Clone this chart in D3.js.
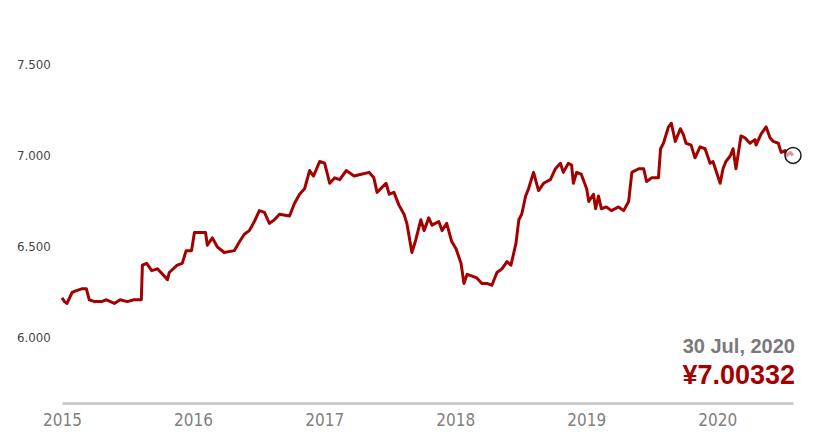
<!DOCTYPE html>
<html><head><meta charset="utf-8">
<script src="https://cdn.jsdelivr.net/npm/d3@7"></script>
<style>
html,body{margin:0;padding:0;background:#fff;}
svg{display:block;}
</style></head>
<body>
<svg id="chart" width="832" height="448"></svg>
<script>
const dates = ["2015-01-01","2015-01-08","2015-01-15","2015-01-29","2015-02-10","2015-02-25","2015-03-10","2015-03-18","2015-04-02","2015-04-21","2015-05-05","2015-05-27","2015-06-12","2015-07-02","2015-07-20","2015-08-10",
"2015-08-13","2015-08-25","2015-09-08","2015-09-24","2015-10-13","2015-10-22","2015-10-27","2015-11-18","2015-12-02","2015-12-13","2015-12-28",
"2016-01-05","2016-02-05","2016-02-10","2016-02-24","2016-03-09","2016-03-28","2016-04-25","2016-05-10","2016-05-23","2016-06-06","2016-06-20",
"2016-07-04","2016-07-18","2016-08-01","2016-08-15","2016-08-29","2016-09-26","2016-10-10","2016-10-24","2016-11-07","2016-11-21","2016-12-02","2016-12-19",
"2017-01-02","2017-01-16","2017-01-30","2017-02-13","2017-03-03","2017-03-25","2017-04-14","2017-05-06","2017-05-19","2017-05-28","2017-06-22",
"2017-07-01","2017-07-14","2017-07-28","2017-08-11","2017-08-19","2017-09-02","2017-09-13","2017-09-27","2017-10-06","2017-10-19","2017-10-28",
"2017-11-16","2017-11-25","2017-12-08","2017-12-22","2018-01-03","2018-01-17","2018-01-25","2018-02-03","2018-02-17","2018-03-02","2018-03-16",
"2018-03-30","2018-04-13","2018-04-27","2018-05-11","2018-05-25","2018-06-05","2018-06-19","2018-06-27","2018-07-05","2018-07-16","2018-07-24",
"2018-08-07","2018-08-21","2018-09-04","2018-09-23","2018-10-07","2018-10-21","2018-10-29","2018-11-12","2018-11-21","2018-11-26","2018-12-05",
"2018-12-18","2019-01-02","2019-01-08","2019-01-21","2019-01-27","2019-02-04","2019-02-12","2019-02-26","2019-03-12","2019-04-01","2019-04-15",
"2019-04-29","2019-05-08","2019-05-27","2019-06-10","2019-06-18","2019-07-02","2019-07-21","2019-07-27","2019-08-04","2019-08-18","2019-08-26",
"2019-09-06","2019-09-20","2019-09-28","2019-10-06","2019-10-20","2019-10-31","2019-11-14","2019-11-28","2019-12-12","2019-12-20","2020-01-09",
"2020-01-17","2020-01-25","2020-02-06","2020-02-14","2020-02-22","2020-03-07","2020-03-18","2020-04-01","2020-04-15","2020-04-18","2020-05-02",
"2020-05-16","2020-05-27","2020-06-05","2020-06-19","2020-06-27","2020-07-08","2020-07-12","2020-07-22","2020-07-30"];
const rates = [6.22,6.20,6.19,6.25,6.26,6.27,6.27,6.21,6.20,6.20,6.21,6.19,6.21,6.20,6.21,6.21,
6.40,6.41,6.37,6.38,6.34,6.32,6.36,6.40,6.41,6.48,6.48,
6.58,6.58,6.51,6.55,6.50,6.47,6.48,6.53,6.57,6.59,6.64,
6.70,6.69,6.63,6.65,6.68,6.67,6.74,6.79,6.82,6.92,6.89,6.97,
6.96,6.85,6.88,6.87,6.92,6.89,6.90,6.91,6.88,6.80,6.85,
6.79,6.80,6.73,6.68,6.63,6.47,6.54,6.65,6.59,6.66,6.62,
6.64,6.59,6.63,6.53,6.49,6.41,6.30,6.35,6.34,6.33,6.30,
6.30,6.29,6.36,6.38,6.42,6.40,6.52,6.65,6.68,6.78,6.82,
6.91,6.81,6.85,6.87,6.93,6.96,6.91,6.96,6.95,6.85,6.91,
6.90,6.82,6.75,6.79,6.71,6.78,6.71,6.72,6.70,6.72,6.70,
6.75,6.91,6.93,6.93,6.86,6.88,6.88,7.04,7.07,7.16,7.18,
7.08,7.15,7.12,7.07,7.06,6.99,7.05,7.04,6.96,6.97,6.85,
6.93,6.97,7.00,7.04,6.93,7.11,7.10,7.07,7.09,7.06,7.12,
7.16,7.10,7.08,7.07,7.02,7.03,7.00,7.02,7.00332];
const yTicks = [6.0, 6.5, 7.0, 7.5];
const xTickYears = ["2015","2016","2017","2018","2019","2020"];
const lastDateLabel = "30 Jul, 2020";
const lastValueLabel = "¥7.00332";

const parse = d3.timeParse("%Y-%m-%d");
const data = dates.map((d,i)=>({date:parse(d), v:rates[i]}));

const svg = d3.select("#chart");
const x = d3.scaleTime().domain([parse("2015-01-01"), parse("2020-07-30")]).range([62, 793]);
const y = d3.scaleLinear().domain([6.0, 7.5]).range([338, 65]);

// y labels
svg.append("g").selectAll("text").data(yTicks).join("text")
  .attr("x", 17).attr("y", d=>y(d)).attr("dy","0.35em")
  .attr("font-family","'DejaVu Sans', Verdana, sans-serif").attr("font-size", 11.8)
  .attr("fill","#444").text(d=>d3.format(".3f")(d));

// x axis
const xAxis = d3.axisBottom(x)
  .tickValues(xTickYears.map(s=>d3.timeParse("%Y")(s)))
  .tickFormat(d3.timeFormat("%Y")).tickSize(0).tickSizeOuter(0).tickPadding(11);
const gx = svg.append("g").attr("transform","translate(0,403)").call(xAxis);
gx.select(".domain").attr("stroke","#cccccc").attr("stroke-width",3);
gx.selectAll("text").attr("font-family","'Liberation Sans Narrow','DejaVu Sans Condensed',sans-serif")
  .attr("font-size",17).attr("fill","#808080");

// line
const line = d3.line().x(d=>x(d.date)).y(d=>y(d.v));
svg.append("path").datum(data).attr("d", line)
  .attr("fill","none").attr("stroke","#a50000").attr("stroke-width",3)
  .attr("stroke-linejoin","round");

// end marker
const last = data[data.length-1];
svg.append("circle").attr("cx", x(last.date)).attr("cy", y(last.v)).attr("r", 8)
  .attr("fill","rgba(255,255,255,0.6)").attr("stroke","#1a1a1a").attr("stroke-width",1.5);

// labels
svg.append("text").attr("x",795).attr("y",353).attr("text-anchor","end")
  .attr("font-family","'Liberation Sans', Arial, sans-serif").attr("font-weight","bold")
  .attr("font-size",20).attr("fill","#7a7a7a").text(lastDateLabel);
svg.append("text").attr("x",795).attr("y",384).attr("text-anchor","end")
  .attr("font-family","'Liberation Sans', Arial, sans-serif").attr("font-weight","bold")
  .attr("font-size",27).attr("fill","#a50000").text(lastValueLabel);
</script>
</body></html>
